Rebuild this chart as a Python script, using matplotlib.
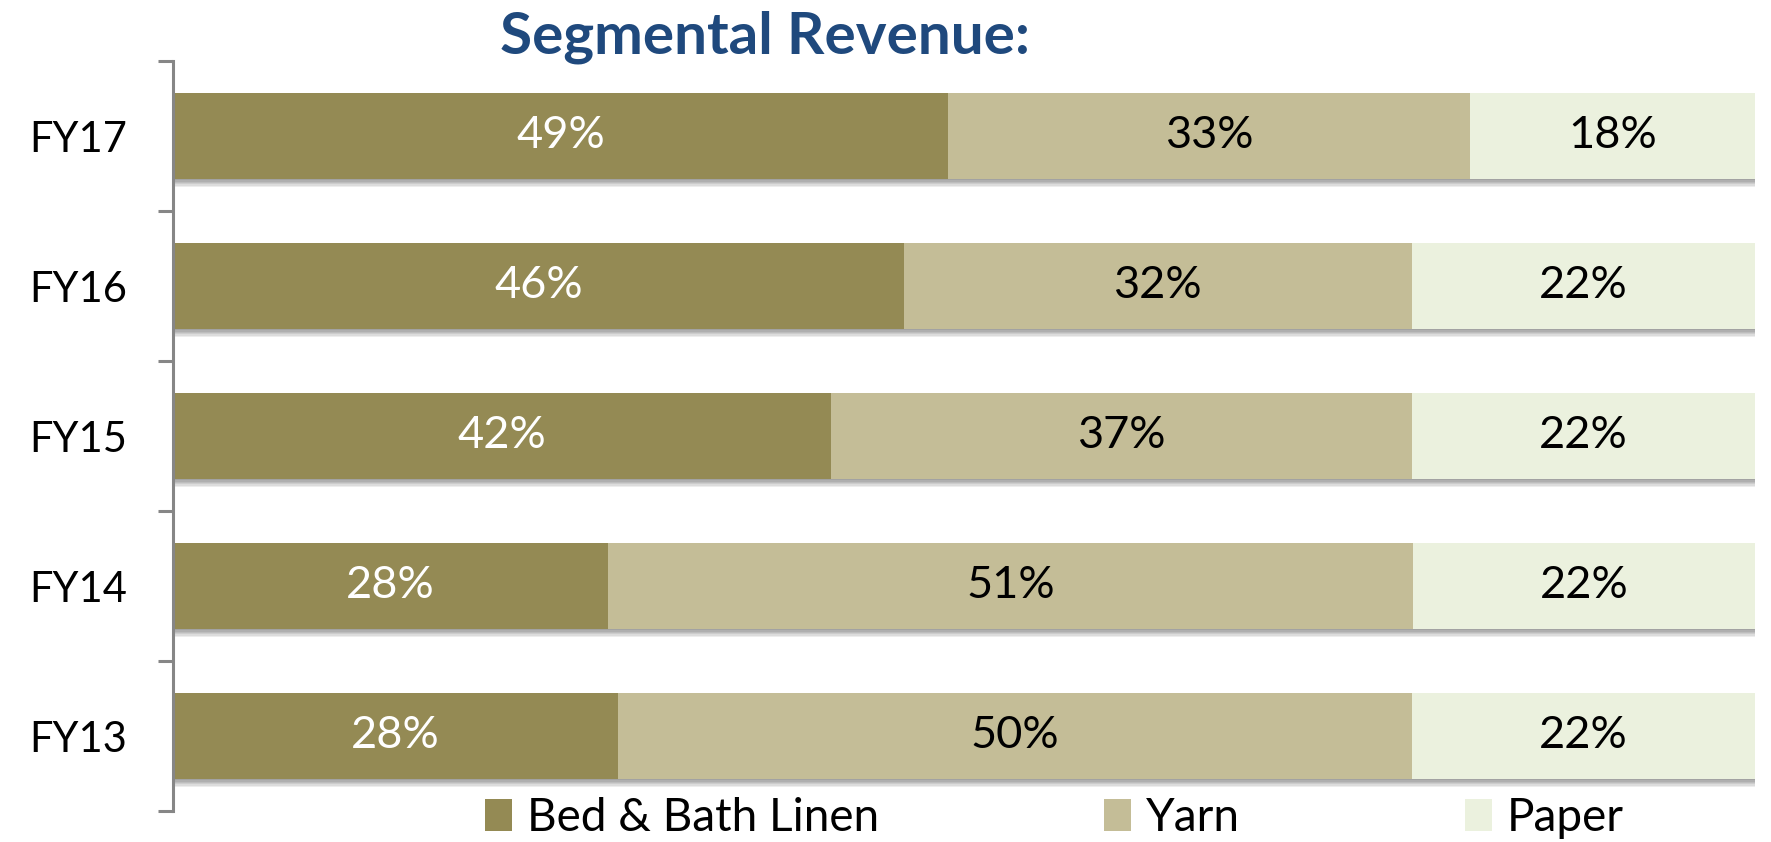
import matplotlib
matplotlib.use('Agg')
import numpy as np
import matplotlib.pyplot as plt
import matplotlib.patheffects as pe

# data (share of revenue, %)
years = ['FY13', 'FY14', 'FY15', 'FY16', 'FY17']
bed_bath = [28.1, 27.5, 41.6, 46.2, 49.0]
yarn = [50.2, 50.9, 36.7, 32.1, 33.0]
paper = [21.7, 21.6, 21.7, 21.7, 18.0]
segments = ['Bed & Bath Linen', 'Yarn', 'Paper']

colors = ['#948A54', '#C4BD97', '#EBF1DE']
label_colors = ['white', 'black', 'black']

plt.rcParams['font.family'] = ['Lato', 'DejaVu Sans']

fig = plt.figure(figsize=(17.71, 8.42), dpi=100)
ax = fig.add_axes([173 / 1771, 31 / 842, 1582 / 1771, 750 / 842])

ypos = np.arange(len(years))
left = np.zeros(len(years))
# soft drop shadow under the bars
shadow = [pe.SimplePatchShadow(offset=(1, -k), shadow_rgbFace='black', alpha=0.07)
          for k in range(1, 7)] + [pe.Normal()]

for vals, name, col, lc in zip([bed_bath, yarn, paper], segments, colors, label_colors):
    bars = ax.barh(ypos, vals, left=left, height=0.57, color=col, label=name,
                   path_effects=shadow, zorder=2)
    ax.bar_label(bars, labels=['{:.0f}%'.format(v) for v in vals], label_type='center',
                 color=lc, fontsize=32.5)
    left = left + np.asarray(vals)

ax.set_xlim(0, 100)
ax.set_ylim(-0.5, len(years) - 0.5)
ax.set_yticks(ypos)
ax.set_yticklabels(years, fontsize=30)
ax.set_yticks(np.arange(-0.5, len(years)), minor=True)
ax.tick_params(axis='y', which='major', length=0, pad=33)
ax.tick_params(axis='y', which='minor', length=11, width=2.2, color='#868686')
ax.set_xticks([])

for s in ['top', 'right', 'bottom']:
    ax.spines[s].set_visible(False)
ax.spines['left'].set_color('#868686')
ax.spines['left'].set_linewidth(2.2)

fig.text(765 / 1771, 1 - 37 / 842, 'Segmental Revenue:', ha='center', va='center',
         fontsize=42, fontweight='bold', color='#1F497D')

leg = fig.legend(loc='center left', bbox_to_anchor=(485 / 1771, 1 - 818 / 842), ncol=3,
                 frameon=False, fontsize=33, handlelength=0.59, handleheight=0.72,
                 handletextpad=0.33, columnspacing=4.9, borderaxespad=0, borderpad=0)
for h in leg.legend_handles:
    h.set_path_effects([])

fig.savefig('out.png', dpi=100)
